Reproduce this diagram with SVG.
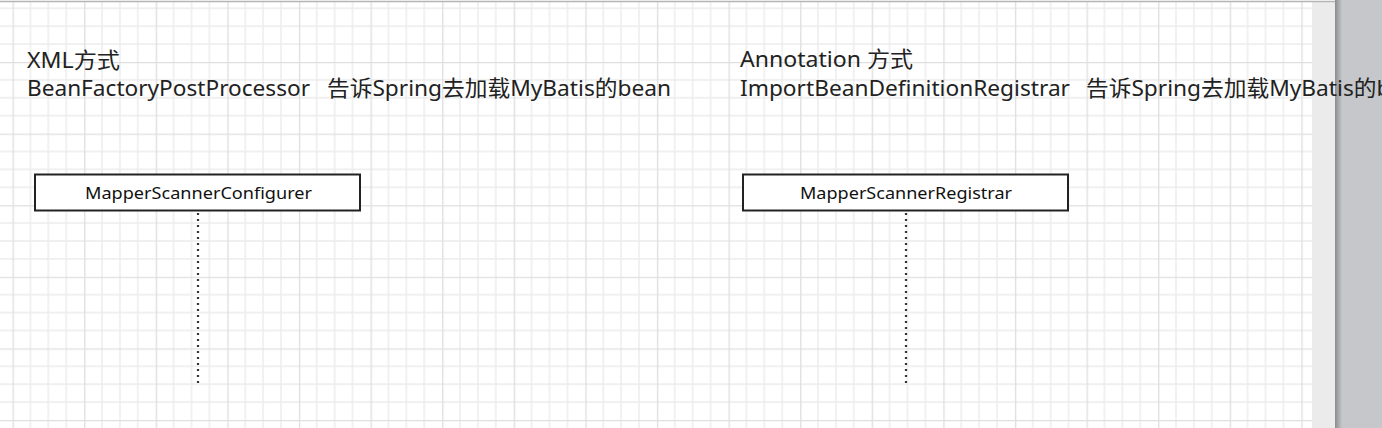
<svg xmlns="http://www.w3.org/2000/svg" width="1382" height="428" viewBox="0 0 1382 428">
  <style>
    .title { font-family: "Noto Sans", "Noto Sans CJK SC", sans-serif; font-size: 22px; fill: #222; }
    .label { font-family: "Noto Sans", "Noto Sans CJK SC", sans-serif; font-size: 17px; fill: #111; }
    .box { fill: #ffffff; stroke: #222; stroke-width: 2; }
    .lifeline { stroke: #333; stroke-width: 2.2; stroke-dasharray: 2 4; fill: none; }
  </style>
  <defs>
    <pattern id="grid" x="12.5" y="62" width="71.6" height="71.6" patternUnits="userSpaceOnUse">
      <path d="M17.9 0V71.6M35.8 0V71.6M53.7 0V71.6M0 17.9H71.6M0 35.8H71.6M0 53.7H71.6" stroke="#ececec" stroke-width="1.4" fill="none"/>
      <path d="M0.5 0V71.6M0 0.5H71.6" stroke="#dfdfdf" stroke-width="1.7" fill="none"/>
    </pattern>
    <linearGradient id="edge" x1="0" x2="1" y1="0" y2="0">
      <stop offset="0" stop-color="#8c8c8c"/>
      <stop offset="1" stop-color="#c4c6ca"/>
    </linearGradient>
  </defs>

  <g id="background">
    <rect x="0" y="0" width="1382" height="428" fill="#ffffff"/>
    <rect x="0" y="2" width="1312" height="426" fill="url(#grid)"/>
    <rect x="1312" y="2" width="23" height="426" fill="#ebebeb"/>
    <rect x="1335" y="0" width="47" height="428" fill="#c5c7cb"/>
    <rect x="1335" y="0" width="7" height="428" fill="url(#edge)"/>
    <line x1="0" y1="1.5" x2="1335" y2="1.5" stroke="#b5b5b5" stroke-width="1.5"/>
  </g>

  <g id="title-xml">
    <text class="title" x="27" y="68" textLength="93" lengthAdjust="spacingAndGlyphs">XML方式</text>
    <text class="title" x="27" y="96" textLength="283" lengthAdjust="spacingAndGlyphs">BeanFactoryPostProcessor</text>
    <text class="title" x="327" y="96" textLength="344" lengthAdjust="spacingAndGlyphs">告诉Spring去加载MyBatis的bean</text>
  </g>

  <g id="title-annotation">
    <text class="title" x="740" y="67" textLength="173" lengthAdjust="spacingAndGlyphs">Annotation 方式</text>
    <text class="title" x="740" y="96" textLength="330" lengthAdjust="spacingAndGlyphs">ImportBeanDefinitionRegistrar</text>
    <text class="title" x="1086" y="96" textLength="344" lengthAdjust="spacingAndGlyphs">告诉Spring去加载MyBatis的bean</text>
  </g>

  <g id="node-mapper-scanner-configurer">
    <rect class="box" x="35" y="174.5" width="325" height="36"/>
    <text class="label" x="85" y="198.5" textLength="227" lengthAdjust="spacingAndGlyphs">MapperScannerConfigurer</text>
  </g>

  <g id="node-mapper-scanner-registrar">
    <rect class="box" x="743" y="174.5" width="325" height="36"/>
    <text class="label" x="800" y="198.5" textLength="212" lengthAdjust="spacingAndGlyphs">MapperScannerRegistrar</text>
  </g>

  <g id="connectors">
    <line class="lifeline" x1="198" y1="213" x2="198" y2="386"/>
    <line class="lifeline" x1="906" y1="213" x2="906" y2="386"/>
  </g>
</svg>
